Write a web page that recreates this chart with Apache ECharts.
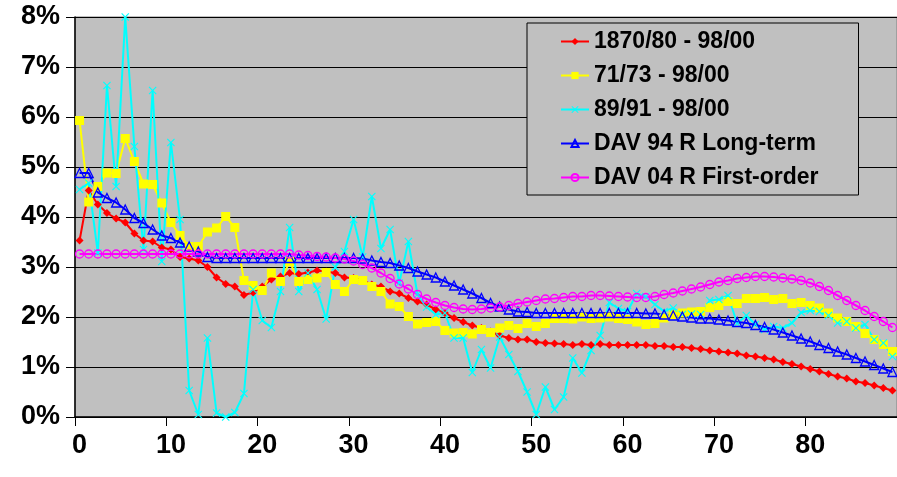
<!DOCTYPE html>
<html>
<head>
<meta charset="utf-8">
<script src="https://cdn.jsdelivr.net/npm/echarts@6/dist/echarts.min.js"></script>
<style>
  html, body { margin: 0; padding: 0; background: #ffffff; }
  #chart { width: 897px; height: 477px; }
</style>
</head>
<body>
<div id="chart"></div>
<script>
// Age 0..89
const ages = [
  0, 1, 2, 3, 4, 5, 6, 7, 8, 9,
  10, 11, 12, 13, 14, 15, 16, 17, 18, 19,
  20, 21, 22, 23, 24, 25, 26, 27, 28, 29,
  30, 31, 32, 33, 34, 35, 36, 37, 38, 39,
  40, 41, 42, 43, 44, 45, 46, 47, 48, 49,
  50, 51, 52, 53, 54, 55, 56, 57, 58, 59,
  60, 61, 62, 63, 64, 65, 66, 67, 68, 69,
  70, 71, 72, 73, 74, 75, 76, 77, 78, 79,
  80, 81, 82, 83, 84, 85, 86, 87, 88, 89
];

const seriesNames = [
  '1870/80 - 98/00',
  '71/73 - 98/00',
  '89/91 - 98/00',
  'DAV 94 R Long-term',
  'DAV 04 R First-order'
];

// Rates in percent, one value per age
const rates1870 = [
  3.53, 4.53, 4.25, 4.08, 3.97, 3.89, 3.67, 3.53, 3.51, 3.39,
  3.35, 3.20, 3.17, 3.13, 3.00, 2.79, 2.66, 2.61, 2.44, 2.49,
  2.61, 2.75, 2.81, 2.88, 2.86, 2.89, 2.93, 2.91, 2.88, 2.79,
  2.78, 2.73, 2.65, 2.61, 2.51, 2.47, 2.38, 2.31, 2.25, 2.15,
  2.08, 1.98, 1.90, 1.83, 1.78, 1.71, 1.63, 1.58, 1.55, 1.55,
  1.50, 1.48, 1.47, 1.46, 1.44, 1.46, 1.44, 1.46, 1.44, 1.44,
  1.44, 1.44, 1.44, 1.42, 1.42, 1.40, 1.40, 1.38, 1.36, 1.33,
  1.31, 1.29, 1.27, 1.23, 1.21, 1.18, 1.15, 1.10, 1.06, 1.01,
  0.96, 0.91, 0.86, 0.81, 0.77, 0.71, 0.68, 0.63, 0.58, 0.53
];

const rates7173 = [
  5.93, 4.30, 4.61, 4.88, 4.87, 5.57, 5.11, 4.66, 4.65, 4.28,
  3.89, 3.63, 3.41, 3.41, 3.70, 3.78, 4.01, 3.79, 2.73, 2.63,
  2.53, 2.88, 2.71, 3.11, 2.71, 2.75, 2.78, 2.89, 2.65, 2.51,
  2.75, 2.73, 2.61, 2.51, 2.26, 2.21, 2.01, 1.86, 1.89, 1.91,
  1.73, 1.68, 1.69, 1.66, 1.75, 1.69, 1.78, 1.83, 1.77, 1.87,
  1.81, 1.87, 1.97, 1.97, 1.96, 2.00, 1.97, 1.98, 2.00, 1.97,
  1.95, 1.90, 1.85, 1.87, 1.98, 2.05, 2.08, 2.10, 2.11, 2.19,
  2.23, 2.31, 2.27, 2.37, 2.37, 2.39, 2.35, 2.37, 2.27, 2.29,
  2.23, 2.18, 2.08, 1.98, 1.91, 1.81, 1.67, 1.55, 1.45, 1.31
];

const rates8991 = [
  4.55, 4.68, 3.28, 6.63, 4.61, 8.00, 5.41, 3.35, 6.53, 3.11,
  5.49, 3.95, 0.53, 0.05, 1.58, 0.08, 0.00, 0.09, 0.47, 2.55,
  1.93, 1.79, 2.51, 3.79, 2.51, 2.88, 2.55, 1.96, 3.00, 3.31,
  3.95, 3.20, 4.41, 3.37, 3.75, 2.68, 3.51, 2.45, 2.20, 2.05,
  2.08, 1.58, 1.58, 0.89, 1.35, 0.98, 1.60, 1.25, 0.91, 0.50,
  0.05, 0.60, 0.15, 0.40, 1.18, 0.88, 1.33, 1.63, 2.29, 2.17,
  2.11, 2.47, 2.41, 2.25, 2.11, 2.18, 2.05, 2.06, 2.05, 2.33,
  2.35, 2.43, 1.87, 2.03, 1.85, 1.75, 1.81, 1.78, 1.88, 2.09,
  2.13, 2.11, 2.03, 1.88, 1.91, 1.78, 1.85, 1.55, 1.48, 1.21
];

const ratesDav94 = [
  4.88, 4.88, 4.49, 4.38, 4.29, 4.15, 3.98, 3.88, 3.75, 3.63,
  3.58, 3.49, 3.41, 3.31, 3.20, 3.18, 3.18, 3.18, 3.18, 3.18,
  3.18, 3.18, 3.18, 3.18, 3.18, 3.18, 3.18, 3.18, 3.18, 3.18,
  3.18, 3.17, 3.13, 3.10, 3.08, 3.03, 2.98, 2.91, 2.85, 2.79,
  2.71, 2.63, 2.55, 2.47, 2.38, 2.28, 2.21, 2.15, 2.11, 2.10,
  2.08, 2.08, 2.08, 2.08, 2.08, 2.08, 2.08, 2.08, 2.08, 2.08,
  2.08, 2.08, 2.07, 2.07, 2.05, 2.03, 2.01, 1.99, 1.97, 1.97,
  1.95, 1.93, 1.90, 1.88, 1.84, 1.80, 1.75, 1.69, 1.63, 1.57,
  1.51, 1.44, 1.38, 1.31, 1.25, 1.18, 1.11, 1.04, 0.97, 0.90
];

const ratesDav04 = [
  3.26, 3.26, 3.26, 3.26, 3.26, 3.26, 3.26, 3.26, 3.26, 3.26,
  3.26, 3.26, 3.26, 3.26, 3.26, 3.26, 3.26, 3.26, 3.26, 3.26,
  3.26, 3.26, 3.26, 3.26, 3.24, 3.23, 3.21, 3.20, 3.18, 3.16,
  3.12, 3.05, 2.98, 2.88, 2.77, 2.66, 2.56, 2.45, 2.36, 2.29,
  2.23, 2.19, 2.16, 2.15, 2.16, 2.18, 2.20, 2.23, 2.27, 2.30,
  2.33, 2.36, 2.37, 2.39, 2.41, 2.41, 2.43, 2.43, 2.42, 2.41,
  2.40, 2.39, 2.39, 2.41, 2.45, 2.48, 2.52, 2.56, 2.60, 2.65,
  2.70, 2.73, 2.77, 2.79, 2.81, 2.81, 2.80, 2.78, 2.76, 2.73,
  2.68, 2.61, 2.53, 2.43, 2.33, 2.23, 2.13, 2.01, 1.91, 1.79
];

// Marker shape for the 89/91 series: a filled "x"
const crossPath = 'path://M0,1L1,0L5,4L9,0L10,1L6,5L10,9L9,10L5,6L1,10L0,9L4,5Z';

const chart = echarts.init(document.getElementById('chart'), null, { renderer: 'canvas' });

const axisFont = {
  fontFamily: 'Liberation Sans, Arial, sans-serif',
  fontWeight: 'bold',
  fontSize: 27,
  color: '#000000'
};

function lineSeries(name, data, color, symbol, size, hollow) {
  return {
    name: name,
    type: 'line',
    data: data,
    symbol: symbol,
    symbolSize: size,
    showAllSymbol: true,
    lineStyle: { color: color, width: 2 },
    itemStyle: hollow
      ? { color: 'rgba(0,0,0,0)', borderColor: color, borderWidth: 1.3 }
      : { color: color, borderWidth: 0 },
    emphasis: { disabled: true },
    animation: false
  };
}

chart.setOption({
  animation: false,
  backgroundColor: '#ffffff',
  grid: {
    left: 75,
    right: -6,
    top: 17,
    bottom: 60,
    show: true,
    backgroundColor: '#C0C0C0',
    borderColor: '#808080',
    borderWidth: 1
  },
  legend: {
    orient: 'vertical',
    left: 527,
    top: 23,
    padding: [7, 40, 6, 33],
    itemGap: 11,
    itemWidth: 28,
    itemHeight: 9,
    backgroundColor: '#C0C0C0',
    borderColor: '#000000',
    borderWidth: 1,
    borderRadius: 0,
    selectedMode: false,
    textStyle: {
      fontFamily: 'Liberation Sans, Arial, sans-serif',
      fontWeight: 'bold',
      fontSize: 23,
      color: '#000000'
    },
    data: seriesNames
  },
  xAxis: {
    type: 'category',
    data: ages,
    boundaryGap: true,
    axisLine: { lineStyle: { color: '#000000', width: 1.5 } },
    axisTick: { show: true, interval: 9, length: 9, lineStyle: { color: '#000000', width: 1 } },
    axisLabel: Object.assign({ interval: 9, margin: 15 }, axisFont),
    splitLine: { show: false }
  },
  yAxis: {
    type: 'value',
    min: 0,
    max: 8,
    interval: 1,
    axisLine: { show: true, lineStyle: { color: '#000000', width: 1.5 } },
    axisTick: { show: true, length: 9, lineStyle: { color: '#000000', width: 1 } },
    axisLabel: Object.assign({ formatter: '{value}%', margin: 15 }, axisFont),
    splitLine: { show: true, lineStyle: { color: '#000000', width: 1.2 } }
  },
  series: [
    lineSeries(seriesNames[0], rates1870, '#FF0000', 'diamond', 8, false),
    lineSeries(seriesNames[1], rates7173, '#FFFF00', 'rect', 9, false),
    lineSeries(seriesNames[2], rates8991, '#00FFFF', crossPath, 8, false),
    lineSeries(seriesNames[3], ratesDav94, '#0000FF', 'triangle', 9, true),
    lineSeries(seriesNames[4], ratesDav04, '#FF00FF', 'circle', 8, true)
  ]
});
</script>
</body>
</html>
